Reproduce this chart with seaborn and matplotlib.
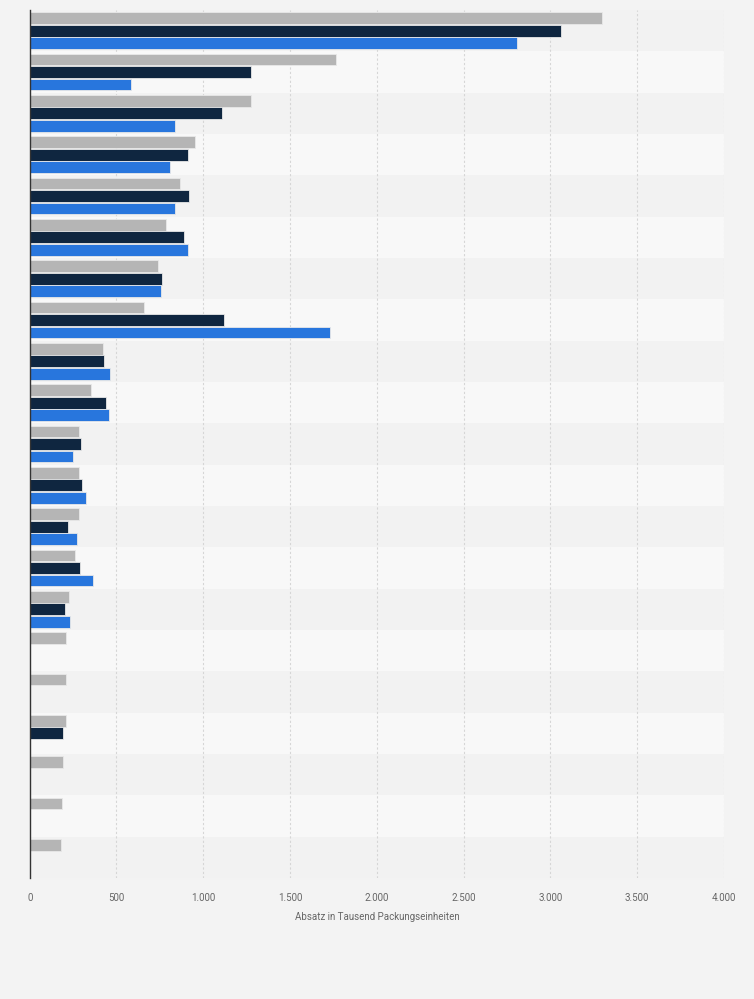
import numpy as np
import pandas as pd
import matplotlib
matplotlib.use("Agg")
import matplotlib.pyplot as plt
import seaborn as sns

# ---- data ----
categories = [f"Produkt {i}" for i in range(1, 22)]
series_names = ["Serie A", "Serie B", "Serie C"]
values_a = [3295, 1766, 1277, 954, 868, 786, 740, 658, 424, 355, 286, 286, 286, 263, 226, 211, 211, 211, 194, 186, 180]
values_b = [3059, 1277, 1110, 914, 919, 889, 763, 1121, 430, 441, 297, 303, 221, 290, 203,
            np.nan, np.nan, 194, np.nan, np.nan, np.nan]
values_c = [2805, 583, 839, 810, 838, 912, 757, 1732, 464, 459, 249, 324, 272, 365, 232,
            np.nan, np.nan, np.nan, np.nan, np.nan, np.nan]
xticks = [0, 500, 1000, 1500, 2000, 2500, 3000, 3500, 4000]
xtick_labels = ["0", "500", "1.000", "1.500", "2.000", "2.500", "3.000", "3.500", "4.000"]
x_label = "Absatz in Tausend Packungseinheiten"
colors = ["#b5b5b5", "#0f2640", "#2876dd"]

df = pd.DataFrame({
    "Kategorie": categories * 3,
    "Serie": [series_names[0]] * 21 + [series_names[1]] * 21 + [series_names[2]] * 21,
    "Wert": values_a + values_b + values_c,
})

sns.set_theme(style="white")
plt.rcParams["font.family"] = ["Roboto", "DejaVu Sans"]

fig = plt.figure(figsize=(7.54, 9.99), dpi=100, facecolor="#f3f3f3")
ax = fig.add_axes([29.7 / 754, 1 - 878 / 999, (724 - 29.7) / 754, (878 - 10) / 999])
ax.set_facecolor("#f3f3f3")

# alternating row bands
for i in range(len(categories)):
    ax.axhspan(i - 0.5, i + 0.5, color="#f2f2f2" if i % 2 == 0 else "#f8f8f8", zorder=0, lw=0)

for xv in xticks[1:]:
    ax.axvline(xv, color="#d6d6d6", lw=0.8, ls=(0, (2, 2)), zorder=1)

sns.barplot(data=df, x="Wert", y="Kategorie", hue="Serie", orient="h",
            palette=colors, saturation=1, width=0.9, gap=0.05, ax=ax, legend=False,
            edgecolor="#e8e8e8", linewidth=0.6, zorder=2, errorbar=None)

ax.set_xlim(0, 4000)
ax.set_ylim(len(categories) - 0.5, -0.5)
ax.set_xticks(xticks)
ax.set_xticklabels(xtick_labels, fontsize=7, color="#666666")
ax.set_yticks([])
ax.set_ylabel("")
ax.set_xlabel(x_label, fontsize=7, color="#666666", labelpad=6)
ax.tick_params(axis="x", length=0, pad=11)
for s in ["top", "right", "bottom"]:
    ax.spines[s].set_visible(False)
ax.spines["left"].set_color("#333333")
ax.spines["left"].set_linewidth(1.0)
ax.spines["left"].set_zorder(5)

fig.savefig("out.png", dpi=100, facecolor=fig.get_facecolor())
